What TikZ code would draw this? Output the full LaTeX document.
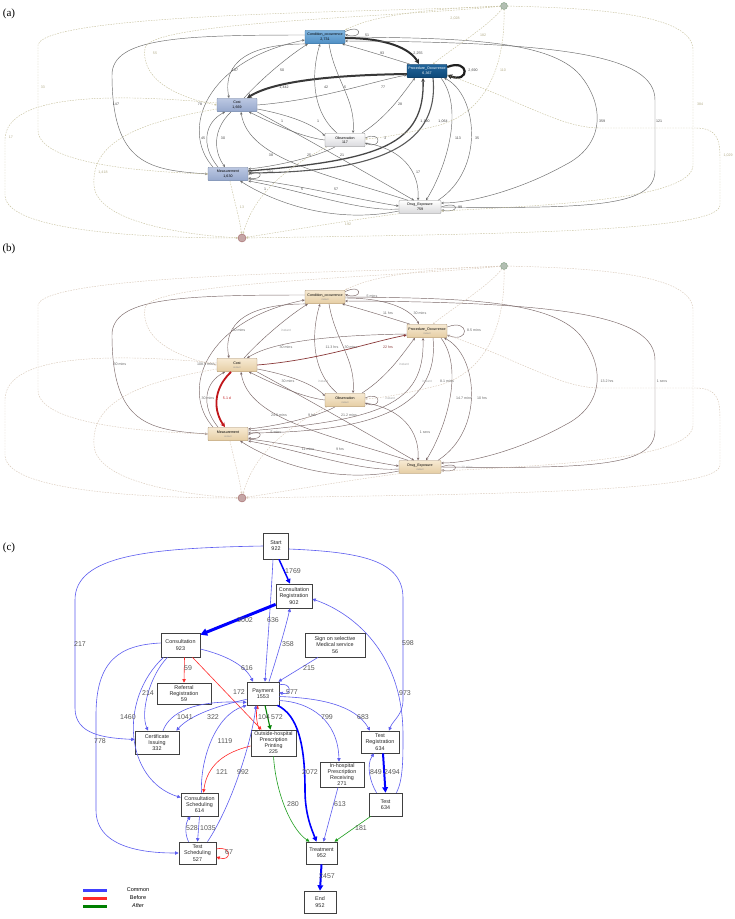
\documentclass[tikz,border=0pt]{standalone}
\usepackage{fontspec}
\setmainfont{Liberation Sans}
\newfontfamily\tnr{Liberation Serif}
\usetikzlibrary{arrows.meta,shadows}
\definecolor{aL}{HTML}{444444}
\definecolor{aD}{HTML}{C9C3A0}
\definecolor{aDL}{HTML}{B3AC88}
\definecolor{aCOt}{HTML}{80B4DE}
\definecolor{aCOb}{HTML}{4E8EC3}
\definecolor{aCOd}{HTML}{3A6E9A}
\definecolor{aPOt}{HTML}{22669C}
\definecolor{aPOb}{HTML}{0D4878}
\definecolor{aCt}{HTML}{BCC8E2}
\definecolor{aCb}{HTML}{95A7CC}
\definecolor{aCd}{HTML}{71829F}
\definecolor{bE}{HTML}{7A6868}
\definecolor{bD}{HTML}{D9C9B9}
\definecolor{bR}{HTML}{C0161A}
\definecolor{bR2}{HTML}{8A3A3A}
\definecolor{bTop}{HTML}{F7EAD3}
\definecolor{bBot}{HTML}{E5CDA3}
\definecolor{bBr}{HTML}{A58D6B}
\definecolor{cBl}{HTML}{5C5CF0}
\definecolor{cBB}{HTML}{0000FF}
\definecolor{cR}{HTML}{FF2A2A}
\definecolor{cG}{HTML}{1E9E1E}
\newcommand\inst{{\fontsize{2.4}{3}\selectfont\color{black!45}instant}}
\newcommand\dfgedges[1]{%
% solid connectors
\draw[e,wA] ([yshift=-1pt]#1CO.east) .. controls (385,38) and (410,48) .. ([xshift=-8pt]#1PO.north);
\draw[e] ([xshift=3pt]#1PO.north west) .. controls (390,58) and (365,50) .. ([xshift=-3pt]#1CO.south east);
\draw[e] ([yshift=-1.5pt]#1CO.north east) .. controls (363,23) and (363,40) .. ([yshift=-4.5pt]#1CO.north east);
\draw[e,wB] ([yshift=4pt]#1PO.east) .. controls (470,58) and (470,84) .. ([yshift=-4pt]#1PO.east);
\draw[e,wC] ([yshift=-3pt]#1PO.west) .. controls (340,75) and (275,80) .. ([xshift=10pt]#1Cost.north);
\draw[e] (#1CO.south west) .. controls (250,44) and (222,62) .. ([xshift=-8pt]#1Cost.north);
\draw[e] ([xshift=7pt]#1Cost.north) .. controls (262,78) and (290,55) .. ([xshift=3pt]#1CO.south west);
\draw[e] ([xshift=-8pt]#1Obs.north) .. controls (310,110) and (312,70) .. ([xshift=-5pt]#1CO.south);
\draw[e] ([xshift=4pt]#1CO.south) .. controls (335,80) and (356,100) .. ([xshift=8pt]#1Obs.north);
\draw[e,r2] (#1Cost.east) .. controls (320,100) and (370,82) .. ([yshift=-4pt]#1PO.west);
\draw[e] ([xshift=17pt]#1Obs.north) .. controls (390,115) and (405,90) .. ([xshift=-12pt]#1PO.south);
\draw[e] ([xshift=-15pt]#1Meas.north) .. controls (180,130) and (205,60) .. ([yshift=-3pt]#1CO.west);
\draw[e] ([yshift=2pt]#1CO.west) .. controls (180,35) and (112,38) .. (112,75) .. controls (112,165) and (150,170) .. (#1Meas.west);
\draw[e] ([xshift=-10pt]#1Meas.north) .. controls (200,145) and (205,122) .. ([xshift=-12pt]#1Cost.south);
\draw[e,r1] ([xshift=-6pt]#1Cost.south) .. controls (212,130) and (214,152) .. ([xshift=-3pt]#1Meas.north);
\draw[e] (#1Obs.west) .. controls (300,137) and (270,122) .. ([xshift=12pt]#1Cost.south);
\draw[e] ([yshift=-4pt]#1Cost.east) .. controls (290,115) and (315,125) .. ([yshift=4pt]#1Obs.west);
\draw[e] ([yshift=2pt]#1Obs.east) .. controls (382,130) and (382,150) .. ([yshift=-3pt]#1Obs.east);
\draw[e,wD] ([yshift=3pt]#1Meas.east) .. controls (380,160) and (425,145) .. ([xshift=-4pt]#1PO.south);
\draw[e,wE] ([xshift=6pt]#1PO.south) .. controls (440,150) and (370,172) .. ([yshift=1pt]#1Meas.east);
\draw[e] ([xshift=14pt]#1PO.south) .. controls (465,110) and (445,170) .. ([xshift=6pt]#1Drug.north);
\draw[e] ([xshift=18pt]#1Drug.north) .. controls (485,170) and (478,95) .. ([xshift=-3pt]#1PO.south east);
\draw[e] (#1CO.east) .. controls (460,38) and (550,40) .. (580,75) .. controls (605,105) and (605,145) .. (565,165) .. controls (520,190) and (470,203) .. ([yshift=4pt]#1Drug.east);
\draw[e] (#1Drug.east) .. controls (600,209) and (655,205) .. (655,170) -- (655,100) .. controls (655,55) and (560,42) .. ([yshift=-4pt]#1CO.east);
\draw[e] ([yshift=-3pt]#1Obs.east) .. controls (400,148) and (420,170) .. ([xshift=-2pt]#1Drug.north);
\draw[e] ([xshift=-12pt]#1Drug.north) .. controls (330,175) and (248,160) .. ([xshift=4pt]#1Cost.south);
\draw[e] (#1Cost.south east) .. controls (300,135) and (370,175) .. ([xshift=-6pt]#1Drug.north);
\draw[e] ([xshift=-10pt]#1Obs.south) .. controls (320,155) and (285,165) .. ([yshift=5pt]#1Meas.east);
\draw[e] ([yshift=-1pt]#1Meas.east) .. controls (264,167) and (264,181) .. ([yshift=-4pt]#1Meas.east);
\draw[e] ([yshift=-5pt]#1Meas.east) .. controls (300,185) and (360,200) .. ([yshift=1pt]#1Drug.west);
\draw[e] ([yshift=-2pt]#1Drug.west) .. controls (360,212) and (300,190) .. (#1Meas.south east);
\draw[e] ([yshift=-4pt]#1Drug.west) .. controls (330,225) and (270,200) .. ([xshift=-8pt]#1Meas.south east);
\draw[e] ([yshift=0pt]#1Drug.east) .. controls (460,200) and (460,214) .. ([yshift=-3pt]#1Drug.east);
% dashed connectors
\draw[d] (#1S) .. controls (440,8) and (375,14) .. (#1CO.north east);
\draw[d] (#1S) .. controls (400,12) and (45,12) .. (38,45) -- (38,130) .. controls (38,165) and (150,172) .. (#1Meas.west);
\draw[d] (#1S) .. controls (380,18) and (150,22) .. (145,48) .. controls (140,85) and (190,100) .. (#1Cost.west);
\draw[d] ([yshift=2pt]#1Cost.west) .. controls (130,95) and (5,90) .. (5,140) -- (5,195) .. controls (5,232) and (150,238) .. (#1E);
\draw[d] ([yshift=-4pt]#1Cost.west) .. controls (120,125) and (92,150) .. (94,185) .. controls (96,225) and (200,236) .. (#1E);
\draw[d] ([xshift=2pt]#1Meas.south) .. controls (234,200) and (240,220) .. (#1E);
\draw[d] ([xshift=-18pt]#1Obs.south) .. controls (280,170) and (252,200) .. (#1E);
\draw[d] (#1Drug.south west) .. controls (350,220) and (280,232) .. (#1E);
\draw[d] (#1S) .. controls (490,25) and (450,50) .. ([xshift=6pt]#1PO.north);
\draw[d] (#1S) .. controls (505,60) and (490,110) .. (440,125) .. controls (400,135) and (380,138) .. ([yshift=1pt]#1Obs.east);
\draw[d] (#1S) .. controls (600,8) and (693,15) .. (693,50) -- (693,165) .. controls (693,198) and (560,205) .. ([yshift=-4pt]#1Drug.east);
\draw[d] ([yshift=-4pt]#1PO.east) .. controls (520,100) and (560,128) .. (600,128) -- (695,128) .. controls (718,128) and (720,140) .. (720,160) -- (720,205) .. controls (720,232) and (500,234) .. (#1E);
}
\begin{document}
\begin{tikzpicture}[x=1pt,y=-1pt,
  na/.style={rectangle,rounded corners=0.8pt,minimum width=40pt,minimum height=13.5pt,inner sep=0.3pt,align=center,font=\fontsize{3.6}{4.6}\selectfont,line width=0.4pt},
  la/.style={font=\fontsize{3.6}{4}\selectfont,text=aL,inner sep=0.5pt},
  lad/.style={font=\fontsize{3.6}{4}\selectfont,text=aDL,inner sep=0.5pt},
  lb/.style={font=\fontsize{3.6}{4}\selectfont,text=black!60,inner sep=0.5pt},
  lbi/.style={font=\fontsize{3.2}{4}\selectfont,text=black!35,inner sep=0.5pt},
  cbox/.style={rectangle,draw=black!75,line width=0.7pt,fill=white,align=center,inner sep=0.5pt,font=\fontsize{5.4}{6.2}\selectfont,text=black!85,drop shadow={shadow xshift=0.8pt,shadow yshift=-0.8pt,fill=black!30}},
  clab/.style={font=\fontsize{7}{8}\selectfont,text=black!65,inner sep=0.5pt},
  cb/.style={draw=cBl,line width=0.6pt,-{Triangle[length=2.6pt 1.4,width=2.4pt 1.6]}},
  cB/.style={draw=cBB,line width=#1,-{Triangle[length=2.6pt 1.4,width=2.4pt 1.6]}},
  cr/.style={draw=cR,line width=0.6pt,-{Triangle[length=2.6pt 1.4,width=2.4pt 1.6]}},
  cg/.style={draw=cG,line width=0.6pt,-{Triangle[length=2.6pt 1.4,width=2.4pt 1.6]}},
  plab/.style={font=\tnr\fontsize{11}{12}\selectfont}
]
\useasboundingbox (0,0) rectangle (735,919);
\fill[white] (0,0) rectangle (735,919);
\node[plab] (pa) at (9,14) {(a)};
\node[plab] (pb) at (9,249) {(b)};
\node[plab] (pc) at (9,548) {(c)};

% ================= panel (a)
\begin{scope}[
  e/.style={draw=black!58,line width=0.45pt,-{Stealth[length=2pt 1.4,width=1.8pt 1.5]}},
  wA/.style={line width=2pt,draw=black!82},
  wB/.style={line width=2.2pt,draw=black!88},
  wC/.style={line width=2pt,draw=black!78},
  wD/.style={line width=1.3pt,draw=black!72},
  wE/.style={line width=1.1pt,draw=black!65},
  r1/.style={}, r2/.style={},
  d/.style={draw=aD,line width=0.45pt,dash pattern=on 1.5pt off 1.2pt,-{Stealth[length=2pt,width=1.8pt]}}]
\node[na,top color=aCOt,bottom color=aCOb,draw=aCOd] (aCO) at (325,37) {Condition\_occurrence\\2,731};
\node[na,top color=aPOt,bottom color=aPOb,draw=aPOb!70!black,text=white] (aPO) at (427,71) {Procedure\_Occurrence\\6,367};
\node[na,top color=aCt,bottom color=aCb,draw=aCd] (aCost) at (237,105) {Cost\\1,669};
\node[na,top color=white,bottom color=blue!10!black!15!white,draw=black!45] (aObs) at (345,140) {Observation\\117};
\node[na,top color=aCt,bottom color=aCb,draw=aCd] (aMeas) at (228,174) {Measurement\\1,630};
\node[na,minimum width=42pt,minimum height=13pt,top color=white,bottom color=blue!5!black!15!white,draw=black!45] (aDrug) at (420,207) {Drug\_Exposure\\759};
\node[circle,minimum size=7pt,inner sep=0,fill=green!15!black!30,draw=green!25!black!50] (aS) at (504,6) {};
\node[circle,minimum size=8pt,inner sep=0,fill=red!35!black!35,draw=red!40!black!60] (aE) at (242,238) {};
\dfgedges{a}
\end{scope}
\node[la] at (367,35) {51}; \node[la] at (382,53) {93}; \node[la] at (418,53) {2,255};
\node[la] at (473,70) {2,690}; \node[la] at (235,70) {107}; \node[la] at (282,70) {50};
\node[la] at (284,87) {1,442}; \node[la] at (326,87) {42}; \node[la] at (345,87) {5};
\node[la] at (383,87) {77}; \node[la] at (116,104) {147}; \node[la] at (200,104) {78};
\node[la] at (400,104) {28}; \node[la] at (282,121) {1}; \node[la] at (318,121) {1};
\node[la] at (425,121) {1,190}; \node[la] at (443,121) {1,064}; \node[la] at (602,121) {359};
\node[la] at (659,121) {121}; \node[la] at (203,138) {45}; \node[la] at (223,138) {30};
\node[la] at (385,138) {3}; \node[la] at (458,138) {113}; \node[la] at (477,138) {35};
\node[la] at (271,155) {38}; \node[la] at (309,155) {25}; \node[la] at (342,155) {21};
\node[la] at (270,172) {204}; \node[la] at (418,172) {17}; \node[la] at (265,189) {1};
\node[la] at (302,189) {5}; \node[la] at (336,189) {57}; \node[la] at (460,207) {99};
\node[lad] at (455,18) {2,028}; \node[lad] at (483,35) {182}; \node[lad] at (155,53) {55};
\node[lad] at (503,70) {110}; \node[lad] at (43,87) {33}; \node[lad] at (700,104) {384};
\node[lad] at (11,137) {17}; \node[lad] at (728,155) {1,029}; \node[lad] at (103,172) {1,418};
\node[lad] at (242,207) {13}; \node[lad] at (348,224) {192};

% ================= panel (b)
\begin{scope}[shift={(0,260)},
  e/.style={draw=bE,line width=0.45pt,-{Stealth[length=2pt 1.4,width=1.8pt 1.5]}},
  wA/.style={}, wB/.style={}, wC/.style={}, wD/.style={}, wE/.style={},
  r1/.style={line width=1.8pt,draw=bR},
  r2/.style={line width=0.7pt,draw=bR2},
  d/.style={draw=bD,line width=0.45pt,dash pattern=on 1.5pt off 1.2pt,-{Stealth[length=2pt,width=1.8pt]}},
  nb/.style={na,top color=bTop,bottom color=bBot,draw=bBr,font=\fontsize{3.6}{4.2}\selectfont}]
\node[nb] (bCO) at (325,37) {Condition\_occurrence\\\inst};
\node[nb] (bPO) at (427,71) {Procedure\_Occurrence\\\inst};
\node[nb] (bCost) at (237,105) {Cost\\\inst};
\node[nb] (bObs) at (345,140) {Observation\\\inst};
\node[nb] (bMeas) at (228,174) {Measurement\\\inst};
\node[nb,minimum width=42pt,minimum height=13pt] (bDrug) at (420,207) {Drug\_Exposure\\\inst};
\node[circle,minimum size=7pt,inner sep=0,fill=green!15!black!30,draw=green!25!black!50] (bS) at (504,6) {};
\node[circle,minimum size=8pt,inner sep=0,fill=red!35!black!35,draw=red!40!black!60] (bE) at (242,238) {};
\dfgedges{b}
\end{scope}
\node[lb] at (372,296) {5 mins}; \node[lb] at (388,313) {11 hrs}; \node[lb] at (420,313) {30 mins};
\node[lb] at (474,330) {8.5 mins}; \node[lb] at (239,330) {30 mins}; \node[lbi] at (286,330) {instant};
\node[lb] at (286,347) {30 mins}; \node[lb] at (332,347) {11.3 hrs}; \node[lb] at (351,347) {30 mins};
\node[lb,text=bR2] at (388,347) {22 hrs}; \node[lb] at (120,364) {30 mins}; \node[lb] at (206,364) {108.5 mins};
\node[lbi] at (404,364) {instant}; \node[lb] at (288,381) {30 mins}; \node[lbi] at (323,381) {instant};
\node[lbi] at (427,381) {instant}; \node[lb] at (447,381) {8.1 mins}; \node[lb] at (607,381) {13.2 hrs};
\node[lb] at (662,381) {1 secs}; \node[lb] at (208,398) {30 mins}; \node[lb,text=bR] at (227,398) {5.1 d};
\node[lbi] at (390,398) {instant}; \node[lb] at (464,398) {14.7 mins}; \node[lb] at (482,398) {10 hrs};
\node[lb] at (279,415) {24.8 mins}; \node[lb] at (312,415) {9 hrs}; \node[lb] at (349,415) {21.2 mins};
\node[lb] at (276,432) {5 mins}; \node[lb] at (425,432) {1 secs}; \node[lb] at (308,449) {11 mins};
\node[lb] at (340,449) {9 hrs}; \node[lbi] at (467,467) {30 mins};

% ================= panel (c)
\node[cbox,minimum width=25pt,minimum height=26pt] (cSt) at (276,546) {Start\\922};
\node[cbox,minimum width=36pt,minimum height=24pt] (cCR) at (294,596) {Consultation\\Registration\\902};
\node[cbox,minimum width=39pt,minimum height=24pt] (cCon) at (180.5,645) {Consultation\\923};
\node[cbox,minimum width=60pt,minimum height=24pt] (cSign) at (335,645) {Sign on selective\\Medical service\\56};
\node[cbox,minimum width=54pt,minimum height=21pt] (cRef) at (184,693.5) {Referral\\Registration\\59};
\node[cbox,minimum width=32pt,minimum height=23pt] (cPay) at (263,693.5) {Payment\\1553};
\node[cbox,minimum width=44pt,minimum height=23pt] (cCert) at (157,742.5) {Certificate\\Issuing\\332};
\node[cbox,minimum width=45pt,minimum height=26pt,font=\fontsize{5.3}{6}\selectfont] (cOHP) at (273.5,743) {Outside-hospital\\Prescription\\Printing\\225};
\node[cbox,minimum width=38pt,minimum height=22pt] (cTR) at (380,742) {Test\\Registration\\634};
\node[cbox,minimum width=44pt,minimum height=25pt] (cIHP) at (342,774.5) {In-hospital\\Prescription\\Receiving\\271};
\node[cbox,minimum width=33pt,minimum height=23pt] (cTest) at (385.5,804.5) {Test\\634};
\node[cbox,minimum width=37pt,minimum height=23pt] (cCS) at (199.5,804.5) {Consultation\\Scheduling\\614};
\node[cbox,minimum width=37pt,minimum height=22pt] (cTS) at (197.5,853) {Test\\Scheduling\\527};
\node[cbox,minimum width=31pt,minimum height=22pt] (cTr) at (321.5,853) {Treatment\\952};
\node[cbox,minimum width=32pt,minimum height=22pt] (cEnd) at (320,902) {End\\952};

\draw[cB=1.5pt] ([xshift=3pt]cSt.south) -- ([xshift=-4pt]cCR.north);
\draw[cb] ([xshift=-3pt]cSt.south) .. controls (271,600) and (267,650) .. ([xshift=2pt]cPay.north);
\draw[cb] (cSt.west) .. controls (150,548) and (75,555) .. (75,600) -- (75,708) .. controls (75,735) and (105,738) .. ([yshift=3pt]cCert.west);
\draw[cb] ([yshift=-3pt]cSt.east) .. controls (360,552) and (403,560) .. (403,598) -- (403,700) .. controls (403,715) and (393,720) .. ([xshift=9pt]cTR.north);
\draw[cb] ([xshift=11pt]cTest.north) .. controls (403,780) and (403,760) .. (403,735) .. controls (403,650) and (350,612) .. ([yshift=-3pt]cCR.east);
\draw[cB=3pt] ([yshift=4pt]cCR.south west) -- ([yshift=-2pt]cCon.north east);
\draw[cb] ([xshift=6pt]cPay.north) .. controls (276,660) and (285,630) .. ([xshift=-4pt]cCR.south);
\draw[cb] ([xshift=-17pt]cSign.south) -- ([xshift=-1pt]cPay.north east);
\draw[cb] ([yshift=-4pt]cCon.east) .. controls (225,655) and (245,665) .. ([xshift=-10pt]cPay.north);
\draw[cr] ([xshift=4pt]cCon.south) -- (cRef.north);
\draw[cr] ([xshift=12pt]cCon.south) -- ([xshift=-12pt]cOHP.north);
\draw[cr] ([xshift=-14pt]cOHP.north) .. controls (256,722) and (256,712) .. ([xshift=-5pt]cPay.south);
\draw[cg,line width=1.1pt,draw=green!50!black] ([xshift=2pt]cPay.south) -- ([xshift=-3pt]cOHP.north);
\draw[cb] ([xshift=-13pt]cCon.south) .. controls (150,675) and (140,712) .. ([xshift=-9pt]cCert.north);
\draw[cb] ([xshift=-17pt]cCon.south) .. controls (118,700) and (125,780) .. ([yshift=7pt]cCS.west);
\draw[cb] ([yshift=2pt]cCon.west) .. controls (120,645) and (96,660) .. (96,715) -- (96,810) .. controls (96,850) and (150,853) .. (cTS.west);
\draw[cb] ([yshift=-3pt]cPay.north east) .. controls (292,682) and (292,696) .. ([yshift=1pt]cPay.east);
\draw[cb] ([xshift=6pt]cCert.north) .. controls (170,712) and (195,700) .. ([yshift=3pt]cPay.south west);
\draw[cb] ([yshift=6pt]cPay.south west) .. controls (220,705) and (190,715) .. ([xshift=-3pt]cCert.north east);
\draw[cb] ([yshift=-3pt]cPay.east) .. controls (320,698) and (355,705) .. ([xshift=-10pt]cTR.north);
\draw[cb] ([yshift=-7pt]cPay.east) .. controls (310,702) and (338,720) .. ([xshift=-3pt]cIHP.north);
\draw[cB=1.6pt] ([xshift=-2pt]cPay.south east) .. controls (298,715) and (305,745) .. (305,790) .. controls (305,815) and (312,830) .. ([xshift=-5pt]cTr.north);
\draw[cb] ([xshift=2pt]cCS.north) .. controls (200,760) and (215,715) .. (cPay.south west);
\draw[cb] ([xshift=10pt]cTS.north) .. controls (232,805) and (252,740) .. ([xshift=-7pt]cPay.south);
\draw[cr] ([yshift=-3pt]cOHP.west) .. controls (225,752) and (207,765) .. ([xshift=4pt]cCS.north);
\draw[cg] (cOHP.south) .. controls (276,795) and (292,830) .. ([xshift=-12pt]cTr.north);
\draw[cb] ([xshift=-4pt]cIHP.south) -- ([xshift=2pt]cTr.north);
\draw[cg] ([xshift=2pt]cTest.south west) -- ([xshift=13pt]cTr.north);
\draw[cB=2pt] ([xshift=3pt]cTR.south) -- (cTest.north);
\draw[cb] ([xshift=-9pt]cTest.north) .. controls (370,782) and (366,765) .. ([xshift=-6pt]cTR.south);
\draw[cb] (cCS.south) -- (cTS.north);
\draw[cb] ([xshift=-9pt]cTS.north) .. controls (184,832) and (186,822) .. ([xshift=-9pt]cCS.south);
\draw[cr] ([yshift=4pt]cTS.east) .. controls (232,845) and (232,862) .. ([yshift=-4pt]cTS.east);
\draw[cB=2pt] (cTr.south) -- (cEnd.north);

\node[clab] at (293,571) {1769}; \node[clab] at (273,620) {636}; \node[clab] at (245,620) {3002};
\node[clab] at (80,644) {217}; \node[clab] at (288,644) {358}; \node[clab] at (408,643) {598};
\node[clab] at (247,668) {616}; \node[clab] at (188,668) {59}; \node[clab] at (309,668) {215};
\node[clab] at (148,693) {214}; \node[clab] at (239,692) {172}; \node[clab] at (292,692) {577};
\node[clab] at (128,717) {1460}; \node[clab] at (185,717) {1041}; \node[clab] at (213,717) {322};
\node[clab] at (264,717) {104}; \node[clab] at (277,717) {572}; \node[clab] at (327,717) {799};
\node[clab] at (363,717) {683}; \node[clab] at (405,693) {973}; \node[clab] at (100,741) {778};
\node[clab] at (225,741) {1119}; \node[clab] at (222,772) {121}; \node[clab] at (243,772) {992};
\node[clab] at (310,772) {2072}; \node[clab] at (376,772) {849}; \node[clab] at (392,772) {2494};
\node[clab] at (293,804) {280}; \node[clab] at (340,804) {613}; \node[clab] at (192,828) {528};
\node[clab] at (208,828) {1035}; \node[clab] at (361,828) {181}; \node[clab] at (229,852) {67};
\node[clab] at (327,876) {2457};

% legend
\draw[line width=3pt,draw=cBB!75!white] (83,890) -- (107,890);
\draw[line width=3pt,draw=cR] (83,898) -- (107,898);
\draw[line width=3pt,draw=green!50!black] (83,906) -- (107,906);
\node[font=\fontsize{5.5}{6}\selectfont] (lg1) at (138,890) {Common};
\node[font=\fontsize{5.5}{6}\selectfont] (lg2) at (138,898) {Before};
\node[font=\fontsize{5.5}{6}\selectfont\itshape] (lg3) at (138,906) {After};
\end{tikzpicture}
\end{document}
